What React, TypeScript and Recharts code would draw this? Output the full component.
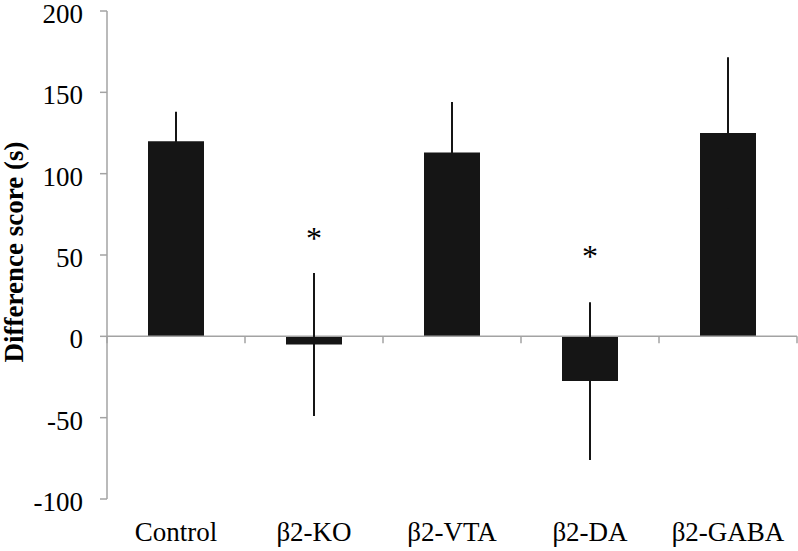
import { ComposedChart, Bar, ErrorBar, Scatter, XAxis, YAxis, ReferenceLine } from 'recharts';

const groups = ['Control', 'β2-KO', 'β2-VTA', 'β2-DA', 'β2-GABA'];
const scores = [120, -5, 113, -27.5, 125];
const sem = [18, 44, 31, 48.5, 46.5];
// asterisk heights (significance marks)
const starY = [null, 63, null, 52, null];
const yTicks = [-100, -50, 0, 50, 100, 150, 200];

const data = groups.map((g, i) => ({ group: g, score: scores[i], sem: sem[i], star: starY[i] }));

const W = 798;
const H = 551;
const TOP = 11;
const X_AXIS_H = 52;
const Y_MIN = -100;
const Y_MAX = 200;
const PLOT_BOTTOM = H - X_AXIS_H;
const ZERO_Y = TOP + ((Y_MAX - 0) / (Y_MAX - Y_MIN)) * (PLOT_BOTTOM - TOP);

const AXIS = '#a3a3a3';
const INK = '#151515';
const FONT = '"Liberation Serif", "Times New Roman", serif';

const YTick = (props: any) => {
  const { x, y, payload } = props;
  return (
    <text x={x} y={y} dy={12} textAnchor="end" fontSize={27} fontFamily={FONT} fill="#000">
      {payload.value}
    </text>
  );
};

const XTick = (props: any) => {
  const { x, y, payload } = props;
  const half = payload.offset ?? 69;
  return (
    <g>
      {payload.index === 0 && (
        <line x1={x - half} x2={x - half} y1={ZERO_Y} y2={ZERO_Y + 7} stroke={AXIS} strokeWidth={1.5} />
      )}
      <line x1={x + half} x2={x + half} y1={ZERO_Y} y2={ZERO_Y + 7} stroke={AXIS} strokeWidth={1.5} />
      <text x={x} y={y} dy={42} textAnchor="middle" fontSize={27} fontFamily={FONT} fill="#000">
        {payload.value}
      </text>
    </g>
  );
};

const Star = (props: any) => {
  const { cx, cy, payload } = props;
  if (payload.star == null) return null;
  return (
    <text x={cx} y={cy} dy={15} textAnchor="middle" fontSize={32} fontFamily={FONT} fill="#000">
      *
    </text>
  );
};

export default function App() {
  return (
    <div style={{ position: 'absolute', left: 0, top: 0, width: W, height: H, background: '#fff' }}>
      <ComposedChart width={W} height={H} data={data} margin={{ top: TOP, right: 1, bottom: 0, left: 0 }}>
        <XAxis
          dataKey="group"
          height={X_AXIS_H}
          axisLine={false}
          tickLine={false}
          tickSize={0}
          tickMargin={0}
          interval={0}
          tick={<XTick />}
        />
        <YAxis
          type="number"
          domain={[Y_MIN, Y_MAX]}
          ticks={yTicks}
          interval={0}
          width={107}
          tickSize={7}
          tickMargin={17}
          axisLine={{ stroke: AXIS, strokeWidth: 1.5 }}
          tickLine={{ stroke: AXIS, strokeWidth: 1.5 }}
          tick={<YTick />}
          label={{
            content: () => (
              <text
                transform={`translate(23, 252) rotate(-90)`}
                textAnchor="middle"
                fontSize={27}
                fontWeight="bold"
                fontFamily={FONT}
                fill="#000"
              >
                Difference score (s)
              </text>
            ),
          }}
        />
        <ReferenceLine y={0} stroke={AXIS} strokeWidth={1.5} />
        <Bar dataKey="score" fill={INK} barSize={56} isAnimationActive={false}>
          <ErrorBar dataKey="sem" width={0} stroke={INK} strokeWidth={2} isAnimationActive={false} />
        </Bar>
        <Scatter dataKey="star" shape={<Star />} isAnimationActive={false} />
      </ComposedChart>
    </div>
  );
}
